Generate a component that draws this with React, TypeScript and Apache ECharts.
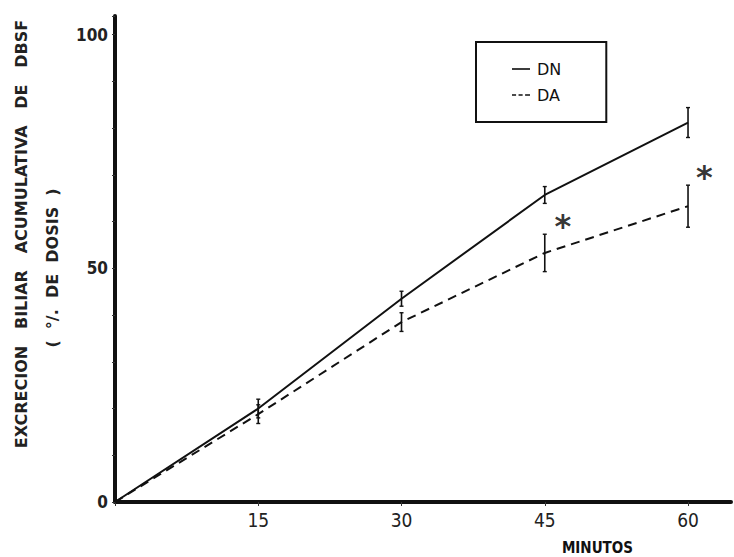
import React, { useEffect, useRef } from "react";
import * as echarts from "echarts";

const minutes = [0, 15, 30, 45, 60];
const dnValues = [0, 20, 43.5, 65.7, 81.2];
const dnErrors = [0, 2, 1.6, 1.8, 3.2];
const daValues = [0, 18.8, 38.5, 53.3, 63.3];
const daErrors = [0, 2, 2, 4, 4.5];
const starPoints = [[46.9, 60.5], [61.7, 71]];
const yTickLabels = [0, 50, 100];
const xTickLabels = [15, 30, 45, 60];
const seriesNames = ["DN", "DA"];

export default function App() {
  const ref = useRef<HTMLDivElement>(null);
  useEffect(() => {
    const chart = echarts.init(ref.current!, null, { renderer: "svg" });
    const font = "DejaVu Sans";
    const narrow = "'Liberation Sans Narrow', 'DejaVu Sans Condensed', 'DejaVu Sans'";
    const errSeries = (name: string, vals: number[], errs: number[]) => ({
      type: "custom",
      name: name + "-err",
      silent: true,
      z: 5,
      data: minutes.map((m, i) => [m, vals[i], errs[i]]).filter((d) => d[2] > 0),
      renderItem: (params: any, api: any) => {
        const x = api.value(0), y = api.value(1), e = api.value(2);
        const top = api.coord([x, y + e]);
        const bot = api.coord([x, y - e]);
        const c = 2;
        return {
          type: "group",
          children: [
            { type: "line", shape: { x1: top[0], y1: top[1], x2: bot[0], y2: bot[1] }, style: { stroke: "#111", lineWidth: 1.6 } },
            { type: "line", shape: { x1: top[0] - c, y1: top[1], x2: top[0] + c, y2: top[1] }, style: { stroke: "#111", lineWidth: 1.4 } },
            { type: "line", shape: { x1: bot[0] - c, y1: bot[1], x2: bot[0] + c, y2: bot[1] }, style: { stroke: "#111", lineWidth: 1.4 } },
          ],
        };
      },
    });
    chart.setOption({
      animation: false,
      backgroundColor: "#fff",
      textStyle: { fontFamily: font },
      grid: { left: 115, right: 3, top: 16, bottom: 55, containLabel: false, outerBoundsMode: "none" },
      legend: {
        data: [
          { name: seriesNames[0], icon: "path://M0,0h22v2h-22z" },
          { name: seriesNames[1], icon: "path://M0,0h5v2h-5z M8,0h5v2h-5z M16,0h6v2h-6z" },
        ],
        orient: "vertical",
        left: 476,
        top: 42,
        padding: [18, 45, 18, 36],
        itemGap: 8,
        itemWidth: 18,
        itemHeight: 2,
        borderColor: "#111",
        borderWidth: 2,
        itemStyle: { color: "#111" },
        textStyle: { fontFamily: font, fontSize: 16, color: "#111", lineHeight: 18, padding: [0, 0, 0, 2] },
      },
      xAxis: {
        type: "value",
        min: 0,
        max: 64.5,
        interval: 15,
        splitLine: { show: false },
        axisLine: { lineStyle: { color: "#111", width: 4 } },
        axisTick: { show: true, length: 4, lineStyle: { color: "#333", width: 1 } },
        axisLabel: {
          color: "#222",
          fontSize: 19,
          fontFamily: narrow,
          margin: 8,
          showMaxLabel: false,
          formatter: (v: number) => (xTickLabels.includes(v) ? String(v) : ""),
        },
        name: "MINUTOS",
        nameLocation: "end",
        nameGap: 0,
        nameTextStyle: { fontSize: 15, fontFamily: narrow, fontWeight: "bold", color: "#111", align: "right", verticalAlign: "top", padding: [38, 98, 0, 0] },
      },
      yAxis: {
        type: "value",
        min: 0,
        max: 104,
        interval: 10,
        splitLine: { show: false },
        axisLine: { lineStyle: { color: "#111", width: 4 } },
        axisTick: { show: true, length: 3, lineStyle: { color: "#333", width: 1 } },
        axisLabel: {
          color: "#222",
          fontSize: 17,
          fontFamily: narrow,
          fontWeight: "bold",
          margin: 7,
          formatter: (v: number) => (yTickLabels.includes(v) ? String(v) : ""),
        },
      },
      graphic: [
        {
          type: "text",
          x: 21,
          y: 234,
          rotation: Math.PI / 2,
          style: { text: "EXCRECION   BILIAR   ACUMULATIVA   DE   DBSF", font: "bold 16px DejaVu Sans", fill: "#222", align: "center", verticalAlign: "middle" },
        },
        {
          type: "text",
          x: 52,
          y: 268,
          rotation: Math.PI / 2,
          style: { text: "(  °/.  DE  DOSIS  )", font: "bold 16px DejaVu Sans", fill: "#222", align: "center", verticalAlign: "middle" },
        },
      ],
      series: [
        {
          name: seriesNames[0],
          type: "line",
          data: minutes.map((m, i) => [m, dnValues[i]]),
          symbol: "none",
          lineStyle: { color: "#111", width: 2 },
          itemStyle: { color: "#111" },
        },
        {
          name: seriesNames[1],
          type: "line",
          data: minutes.map((m, i) => [m, daValues[i]]),
          symbol: "none",
          lineStyle: { color: "#111", width: 2, type: [9, 6] },
          itemStyle: { color: "#111" },
        },
        errSeries("DN", dnValues, dnErrors),
        errSeries("DA", daValues, daErrors),
        {
          type: "scatter",
          name: "stars",
          data: starPoints,
          symbolSize: 0,
          label: { show: true, formatter: "*", position: "inside", fontSize: 32, fontWeight: "bold", color: "#000", offset: [0, 7] },
        },
      ],
    });
    return () => chart.dispose();
  }, []);
  return <div ref={ref} style={{ width: 734, height: 557, position: "absolute", left: 0, top: 0 }} />;
}
